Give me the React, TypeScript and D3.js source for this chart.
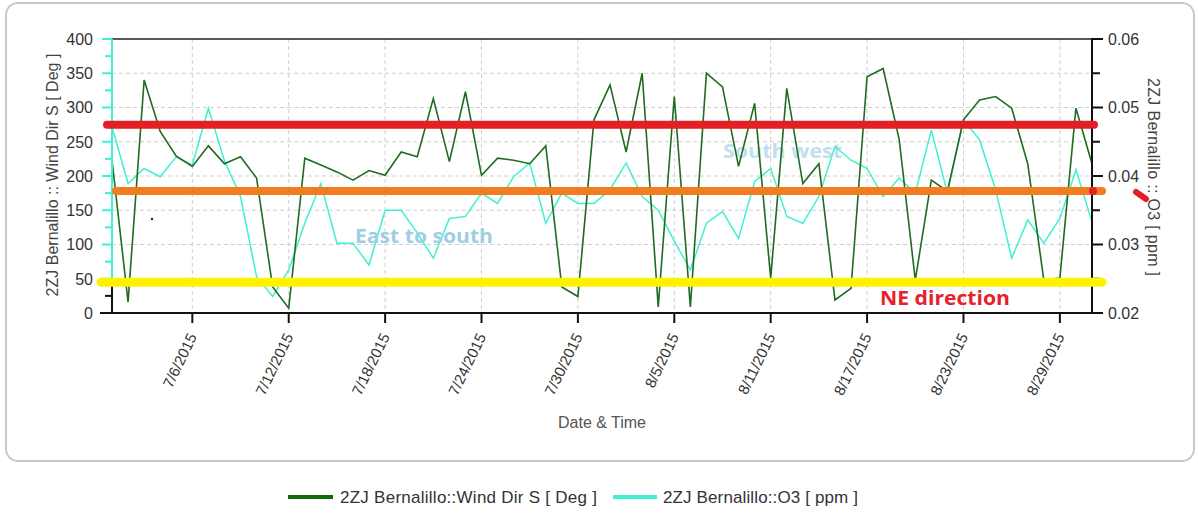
import React from "react";
import * as d3 from "d3";

const startDate = "2015-07-01";
const windDir: number[] = [
  223, 16, 340, 265, 229, 214, 244, 218, 228, 197, 38, 7, 226, 216, 206, 194, 208, 201, 235, 228,
  313, 221, 323, 201, 226, 223, 218, 244, 38, 24, 282, 333, 235, 350, 9, 316, 9, 350, 330, 214,
  306, 51, 328, 189, 218, 19, 36, 345, 357, 253, 48, 194, 178, 282, 311, 316, 299, 218, 48, 51,
  299, 218,
];
const o3: number[] = [
  0.0472, 0.0389, 0.0411, 0.0399, 0.0428, 0.0416, 0.0499, 0.0422, 0.037, 0.0253, 0.0224, 0.0263,
  0.0331, 0.0389, 0.0302, 0.0302, 0.027, 0.035, 0.035, 0.0317, 0.028, 0.0338, 0.0341, 0.0375,
  0.036, 0.0399, 0.0419, 0.0331, 0.0375, 0.036, 0.036, 0.038, 0.0419, 0.037, 0.035, 0.0305,
  0.0263, 0.0331, 0.0348, 0.0309, 0.0392, 0.0411, 0.0341, 0.0331, 0.037, 0.0443, 0.0423, 0.0411,
  0.037, 0.0397, 0.0375, 0.0467, 0.0375, 0.0482, 0.0453, 0.038, 0.028, 0.0336, 0.0302, 0.0338,
  0.0409, 0.0333,
];
const xTickDates = [
  "2015-07-06", "2015-07-12", "2015-07-18", "2015-07-24", "2015-07-30",
  "2015-08-05", "2015-08-11", "2015-08-17", "2015-08-23", "2015-08-29",
];
const leftTicks = [0, 50, 100, 150, 200, 250, 300, 350, 400];
const leftMinor = [25, 75, 125, 175, 225, 275, 325, 375];
const rightTicks = [0.02, 0.03, 0.04, 0.05, 0.06];
const rightMinor = [0.025, 0.035, 0.045, 0.055];
// horizontal annotation bands (in wind-direction degrees)
const bandLevels = [275, 178, 45];
const bandColors = ["#e31e24", "#f47c20", "#fff200"];
const seriesNames = ["2ZJ Bernalillo::Wind Dir S [ Deg ]", "2ZJ Bernalillo::O3 [ ppm ]"];
const seriesColors = ["#1f6b1f", "#3ff0d2"];

const parse = d3.timeParse("%Y-%m-%d");

export default function App() {
  const W = 1198, H = 513;
  const L = 112, R = 1092, T = 39, B = 313;
  const t0 = parse(startDate) as Date;
  const dates = windDir.map((_, i) => d3.timeDay.offset(t0, i));
  const x = d3.scaleTime().domain([dates[0], dates[dates.length - 1]]).range([L, R]);
  const yL = d3.scaleLinear().domain([0, 400]).range([B, T]);
  const yR = d3.scaleLinear().domain([0.02, 0.06]).range([B, T]);
  const lineW = d3.line<number>().x((_, i) => x(dates[i])).y((d) => yL(d));
  const lineO = d3.line<number>().x((_, i) => x(dates[i])).y((d) => yR(d));
  const ticks = xTickDates.map((s) => parse(s) as Date);
  const fmt = (d: Date) => `${d.getMonth() + 1}/${d.getDate()}/${d.getFullYear()}`;
  const font = "'Liberation Sans', Arial, sans-serif";
  const bold = "'Open Sans', 'DejaVu Sans', sans-serif";
  const cyan = seriesColors[1];

  return (
    <svg width={W} height={H} style={{ position: "absolute", left: 0, top: 0, background: "#fff" }}>
      <rect x={6} y={3} width={1188} height={458} rx={12} fill="#fff" stroke="#c9c9c9" strokeWidth={2} />
      {/* grid */}
      {leftTicks.slice(1, -1).map((v) => (
        <line key={"gh" + v} x1={L} x2={R} y1={yL(v)} y2={yL(v)} stroke="#cfcfcf" strokeDasharray="4,3" />
      ))}
      {ticks.map((d, i) => (
        <line key={"gv" + i} x1={x(d)} x2={x(d)} y1={T} y2={B} stroke="#cfcfcf" strokeDasharray="4,3" />
      ))}
      {/* South west label behind lines */}
      <text x={723} y={158} fontFamily={bold} fontWeight={700} fontSize={20} textLength={119} lengthAdjust="spacingAndGlyphs" fill="#bfe0ef">South west</text>
      {/* data lines */}
      <path d={lineO(o3) || ""} fill="none" stroke={cyan} strokeWidth={1.5} />
      <path d={lineW(windDir) || ""} fill="none" stroke={seriesColors[0]} strokeWidth={1.6} />
      {/* frame */}
      <line x1={L} x2={R} y1={T} y2={T} stroke="#222" strokeWidth={1.5} />
      <line x1={100} x2={R} y1={B} y2={B} stroke="#111" strokeWidth={2} />
      {/* left axis */}
      <line x1={L} x2={L} y1={283} y2={B} stroke="#111" strokeWidth={2} />
      <line x1={L} x2={L} y1={T} y2={283} stroke={cyan} strokeWidth={2} />
      {leftTicks.map((v) => (
        <g key={"lt" + v}>
          <line x1={v <= 25 ? 100 : 102} x2={L} y1={yL(v)} y2={yL(v)} stroke={v < 50 ? "#111" : cyan} strokeWidth={2} />
          <text x={93} y={yL(v)} dy="0.36em" textAnchor="end" fontFamily={font} fontSize={16} fill="#333">{v}</text>
        </g>
      ))}
      {leftMinor.map((v) => (
        <line key={"lm" + v} x1={105} x2={L} y1={yL(v)} y2={yL(v)} stroke={v < 50 ? "#111" : cyan} strokeWidth={2} />
      ))}
      <text transform={`translate(58,175) rotate(-90)`} textAnchor="middle" fontFamily={font} fontSize={16} fill="#444">
        2ZJ Bernalillo :: Wind Dir S [ Deg ]
      </text>
      {/* right axis */}
      <line x1={R} x2={R} y1={T - 1} y2={B + 1} stroke="#111" strokeWidth={2} />
      {rightTicks.map((v) => (
        <g key={"rt" + v}>
          <line x1={R} x2={R + 11} y1={yR(v)} y2={yR(v)} stroke="#111" strokeWidth={2} />
          <text x={1108} y={yR(v)} dy="0.36em" fontFamily={font} fontSize={16} fill="#333">{v.toFixed(2)}</text>
        </g>
      ))}
      {rightMinor.map((v) => (
        <line key={"rm" + v} x1={R} x2={R + 8} y1={yR(v)} y2={yR(v)} stroke="#111" strokeWidth={2} />
      ))}
      <text transform={`translate(1148,177) rotate(90)`} textAnchor="middle" fontFamily={font} fontSize={16} textLength={198} fill="#444">
        2ZJ Bernalillo :: O3 [ ppm ]
      </text>
      {/* x axis ticks */}
      {ticks.map((d, i) => (
        <g key={"xt" + i}>
          <line x1={x(d)} x2={x(d)} y1={B} y2={B + 10} stroke="#111" strokeWidth={2} />
          <text transform={`translate(${x(d)},334) rotate(-64)`} textAnchor="end" dominantBaseline="central" fontFamily={font} fontSize={15} fill="#333">
            {fmt(d)}
          </text>
        </g>
      ))}
      <text x={602} y={428} textAnchor="middle" fontFamily={font} fontSize={16} fill="#555">Date &amp; Time</text>
      {/* annotation bands */}
      <line x1={107} x2={1094} y1={yL(bandLevels[0])} y2={yL(bandLevels[0])} stroke={bandColors[0]} strokeWidth={8} strokeLinecap="round" />
      <line x1={116} x2={1102} y1={yL(bandLevels[1])} y2={yL(bandLevels[1])} stroke={bandColors[1]} strokeWidth={8} strokeLinecap="round" />
      <line x1={101} x2={1102} y1={yL(bandLevels[2])} y2={yL(bandLevels[2])} stroke={bandColors[2]} strokeWidth={9} strokeLinecap="round" />
      <circle cx={R + 1} cy={yL(bandLevels[1])} r={4} fill="#e31e24" />
      <line x1={1136} y1={192} x2={1146} y2={199} stroke="#e31e24" strokeWidth={6} strokeLinecap="round" />
      <circle cx={152} cy={219} r={1.2} fill="#222" />
      <text x={355} y={243} fontFamily={bold} fontWeight={700} fontSize={19} textLength={138} lengthAdjust="spacingAndGlyphs" fill="#9dcfe4">East to south</text>
      <text x={880} y={305} fontFamily={bold} fontWeight={700} fontSize={20} textLength={130} lengthAdjust="spacingAndGlyphs" fill="#e8202a">NE direction</text>
      {/* legend */}
      <line x1={288} x2={333} y1={497} y2={497} stroke="#0b6b0b" strokeWidth={4} />
      <text x={340} y={503} fontFamily={font} fontSize={17} textLength={257} fill="#333">{seriesNames[0]}</text>
      <line x1={613} x2={657} y1={497} y2={497} stroke={cyan} strokeWidth={4} />
      <text x={663} y={503} fontFamily={font} fontSize={17} textLength={195} fill="#333">{seriesNames[1]}</text>
    </svg>
  );
}
